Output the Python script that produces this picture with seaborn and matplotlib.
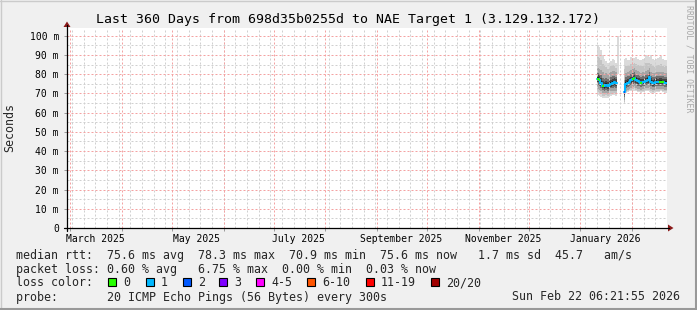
import numpy as np
import pandas as pd
import matplotlib
matplotlib.use("Agg")
import matplotlib.pyplot as plt
import matplotlib.dates as mdates
from matplotlib.patches import Rectangle, Polygon
from matplotlib.lines import Line2D
import seaborn as sns

sns.set_theme(style="white")
plt.rcParams["font.family"] = ["DejaVu Sans Mono", "DejaVu Sans"]

# ---------------- data ----------------
title = "Last 360 Days from 698d35b0255d to NAE Target 1 (3.129.132.172)"
t_start = pd.Timestamp("2025-02-27 06:21:55")
t_end = pd.Timestamp("2026-02-22 06:21:55")
sample_start = "2026-01-11 06:00"   # daily consolidated samples

nan = np.nan
median_ms = [77.6, 76.8, 75.5, 74.0, 73.6, 74.2, 73.8, 74.5, 74.9, 75.4, 75.8, 75.2,
             nan, nan, nan, nan,
             70.9, 75.0, 75.5, 76.0, 76.8, 77.5, 78.0, 77.0, 76.3, 76.0,
             75.5, 75.8, 76.0, 76.4, 77.0, 78.3, 76.0, 75.2, 75.5, 76.0,
             75.8, 76.0, 76.0, 75.8, 75.5, 75.6]
loss_level = [0, 0, 1, 0, 1, 1, 1, 1, 1, 1, 1, 1,
              0, 0, 0, 0,
              2, 1, 1, 1, 1, 0, 0, 1, 1, 1,
              0, 1, 1, 1, 1, 1, 1, 1, 1, 1,
              1, 0, 0, 0, 1, 1]
smoke_top = [95, 94, 92.5, 90, 88, 87, 85.8, 86, 87, 88, 87.5, 85.8,
             100, nan, nan, nan,
             88, 88.4, 87.3, 87.5, 89, 88.2, 88.5, 89, 88, 87.3,
             87.5, 88, 88.5, 90, 89.5, 89, 90, 88, 87.3, 88,
             88.5, 89, 89.5, 88, 87.3, 87.5]
smoke_hi = [83, 82.5, 82, 81, 80, 80.5, 80, 80.5, 81, 81.5, 81.5, 81,
            nan, nan, nan, nan,
            77, 80.5, 81, 81.5, 82, 82.5, 83, 82, 81.5, 81,
            80.5, 81, 81, 81.5, 82, 83, 81, 80.5, 80.5, 81,
            81, 81, 81, 81, 80.5, 80.5]
smoke_lo = [72.5, 72, 71, 70, 69.5, 70, 69.8, 70.5, 71, 71.5, 71.5, 71,
            nan, nan, nan, nan,
            66.5, 71.5, 72, 72.5, 73, 73.5, 74, 73, 72.5, 72.5,
            72, 72.5, 72.5, 73, 73, 73.5, 72.5, 72, 72, 72.5,
            72.5, 72.5, 72.5, 72.5, 72, 72]
smoke_bot = [69, 68.5, 68, 67.5, 67.5, 67.8, 67.5, 68, 68.5, 69, 69, 68.5,
             80, nan, nan, nan,
             65, 70, 70.5, 71, 71, 71.5, 71.5, 71, 70.5, 70.5,
             70, 70.5, 70.5, 71, 71, 70.5, 70, 69.5, 70, 70.5,
             70.5, 70.5, 71, 70.5, 70, 70]

y_ticks = [0, 10, 20, 30, 40, 50, 60, 70, 80, 90, 100]
y_tick_labels = ["0", "10 m", "20 m", "30 m", "40 m", "50 m", "60 m", "70 m", "80 m", "90 m", "100 m"]
x_label_months = ["2025-03-16", "2025-05-16", "2025-07-16", "2025-09-16", "2025-11-16", "2026-01-16"]
x_labels = ["March 2025", "May 2025", "July 2025", "September 2025", "November 2025", "January 2026"]

loss_names = ["0", "1", "2", "3", "4-5", "6-10", "11-19", "20/20"]
loss_colors = ["#26ff00", "#00b8ff", "#0059ff", "#7e00ff", "#ff00ff", "#ff5500", "#ff0000", "#a10000"]

line1 = "median rtt:  75.6 ms avg  78.3 ms max  70.9 ms min  75.6 ms now   1.7 ms sd  45.7   am/s"
line2 = "packet loss: 0.60 % avg   6.75 % max  0.00 % min  0.03 % now"
line3 = "loss color:"
line4 = "probe:       20 ICMP Echo Pings (56 Bytes) every 300s"
stamp = "Sun Feb 22 06:21:55 2026"
credit = "RRDTOOL / TOBI OETIKER"

# ---------------- figure ----------------
W, H = 697, 310
def fx(x): return x / W
def fy(y): return 1 - y / H

fig = plt.figure(figsize=(W / 100, H / 100), dpi=100, facecolor="#f0f0f0")
ax = fig.add_axes([fx(67), fy(228), (667 - 67) / W, (228 - 28) / H])
ax.set_facecolor("white")
for s in ax.spines.values():
    s.set_visible(False)

x0 = mdates.date2num(t_start.to_pydatetime())
x1 = mdates.date2num(t_end.to_pydatetime())
ax.set_xlim(x0, x1)
ax.set_ylim(0, 104)

n = len(median_ms)
edges = mdates.date2num(pd.date_range(sample_start, periods=n + 1, freq="D").to_pydatetime())
med = np.asarray(median_ms, float)
top = np.asarray(smoke_top, float)
hi = np.asarray(smoke_hi, float)
lo = np.asarray(smoke_lo, float)
bot = np.asarray(smoke_bot, float)

def runs(mask):
    idx = np.flatnonzero(mask)
    if len(idx) == 0:
        return []
    return np.split(idx, np.flatnonzero(np.diff(idx) > 1) + 1)

def band(lower, upper, color, z=2):
    for g in runs(~np.isnan(lower) & ~np.isnan(upper)):
        xs = edges[g[0]:g[-1] + 2]
        l = np.append(lower[g], lower[g[-1]])
        u = np.append(upper[g], upper[g[-1]])
        ax.fill_between(xs, l, u, step="post", color=color, lw=0, zorder=z)

# smoke layers (outer -> inner)
band(bot, top, "#dadada")
band(lo + 0.5 * (bot - lo), hi + 0.5 * (top - hi), "#c4c4c4")
band(lo, hi, "#a4a4a4")
band(med + 0.6 * (lo - med), med + 0.6 * (hi - med), "#707070")
band(med + 0.35 * (lo - med), med + 0.35 * (hi - med), "#424242")
band(med + 0.15 * (lo - med), med + 0.15 * (hi - med), "#1a1a1a")

# grid (drawn over smoke like rrdtool), dotted
minor_c, major_c = "#d0d0d0", "#f4a2a2"
dot = (0, (2, 2))
gkw = dict(lw=0.72, ls=dot, zorder=3)
for d in pd.date_range(t_start, t_end, freq="W-SUN"):
    ax.axvline(mdates.date2num(d.to_pydatetime()), color=minor_c, **gkw)
for v in range(5, 100, 10):
    ax.axhline(v, color=minor_c, **gkw)
month_starts = pd.date_range(t_start, t_end, freq="MS")
for d in month_starts:
    ax.axvline(mdates.date2num(d.to_pydatetime()), color=major_c, **gkw)
for v in y_ticks[1:]:
    ax.axhline(v, color=major_c, **gkw)

# median line via seaborn, steps per consolidated sample
rows = []
for si, g in enumerate(runs(~np.isnan(med))):
    xs = edges[g[0]:g[-1] + 2]
    ys = np.append(med[g], med[g[-1]])
    rows.append(pd.DataFrame({"t": xs, "ms": ys, "seg": si}))
df = pd.concat(rows, ignore_index=True)
sns.lineplot(data=df, x="t", y="ms", units="seg", estimator=None, sort=False,
             drawstyle="steps-post", color=loss_colors[1], lw=1.5, ax=ax,
             legend=False, zorder=5)
for k in range(n):
    if not np.isnan(med[k]) and loss_level[k] != 1:
        ax.hlines(med[k], edges[k], edges[k + 1], colors=loss_colors[loss_level[k]],
                  lw=1.5, zorder=6)

# ticks
ax.set_xlabel("")
ax.set_ylabel("")
ax.set_yticks(y_ticks)
ax.set_yticklabels(y_tick_labels)
ax.set_xticks([mdates.date2num(d.to_pydatetime()) for d in month_starts])
ax.set_xticklabels([])
ax.set_xticks([mdates.date2num(pd.Timestamp(d).to_pydatetime()) for d in x_label_months], minor=True)
ax.set_xticklabels(x_labels, minor=True)
ax.tick_params(axis="y", which="major", left=True, length=2, width=0.7, color="#999999",
               pad=3.8, labelsize=7, labelcolor="#000000")
ax.tick_params(axis="x", which="major", bottom=True, length=2, width=0.7, color="#999999")
ax.tick_params(axis="x", which="minor", bottom=True, length=0, pad=4.0, labelsize=7,
               labelcolor="#000000")
ax.grid(False)

# axes lines and arrows
axis_c = "#000000"
arrow_c = "#8b1a1a"
fig.add_artist(Line2D([fx(64), fx(669)], [fy(228), fy(228)], color=axis_c, lw=0.9))
fig.add_artist(Line2D([fx(67), fx(67)], [fy(231), fy(25)], color=axis_c, lw=0.9))
fig.add_artist(Polygon([(fx(668), fy(224.5)), (fx(668), fy(231.5)), (fx(673.5), fy(228))],
                       closed=True, color=arrow_c, lw=0))
fig.add_artist(Polygon([(fx(63.5), fy(27)), (fx(70.5), fy(27)), (fx(67), fy(21.5))],
                       closed=True, color=arrow_c, lw=0))

# frame shading
fig.add_artist(Line2D([fx(0), fx(697)], [fy(0.5), fy(0.5)], color="#cbcbcb", lw=1))
fig.add_artist(Line2D([fx(0.5), fx(0.5)], [fy(0), fy(310)], color="#cbcbcb", lw=1))
fig.add_artist(Line2D([fx(0), fx(697)], [fy(309), fy(309)], color="#999999", lw=1.5))
fig.add_artist(Line2D([fx(696), fx(696)], [fy(0), fy(310)], color="#999999", lw=1.5))

# texts
fig.text(fx(348.5), fy(23), title, ha="center", va="baseline", fontsize=9.55, color="#000000")
fig.text(fx(10), fy(128), "Seconds", rotation=90, ha="center", va="center", fontsize=8.4)
fig.text(fx(688.5), fy(59), credit, rotation=270, ha="center", va="center",
         fontsize=5.9, color="#a8a8a8")

lfs = 8.4
fig.text(fx(16), fy(258.5), line1, ha="left", va="baseline", fontsize=lfs)
fig.text(fx(16), fy(272.5), line2, ha="left", va="baseline", fontsize=lfs)
fig.text(fx(16), fy(286.5), line3, ha="left", va="baseline", fontsize=lfs)
fig.text(fx(16), fy(300.5), line4, ha="left", va="baseline", fontsize=lfs)
fig.text(fx(680), fy(300.5), stamp, ha="right", va="baseline", fontsize=lfs)

box_x = [108, 146, 183, 219, 256, 307, 366, 431]
for bx, name, col in zip(box_x, loss_names, loss_colors):
    fig.add_artist(Rectangle((fx(bx), fy(286)), 8 / W, 8 / H, facecolor=col,
                             edgecolor="#000000", lw=0.8))
    fig.text(fx(bx + 15), fy(286.5), name, ha="left", va="baseline", fontsize=lfs)

fig.savefig("out.png", dpi=100, facecolor=fig.get_facecolor())
